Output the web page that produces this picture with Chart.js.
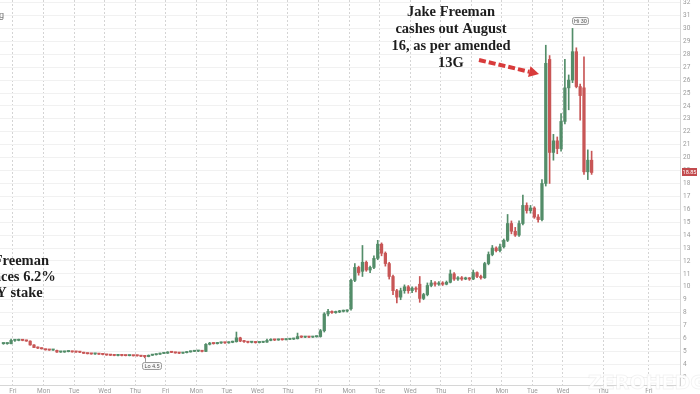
<!DOCTYPE html>
<html>
<head>
<meta charset="utf-8">
<script src="https://cdn.jsdelivr.net/npm/chart.js@4.4.1/dist/chart.umd.min.js"></script>
<style>
html, body { margin: 0; padding: 0; background: #fff; overflow: hidden; }
#wrap { width: 700px; height: 394px; }
</style>
</head>
<body>
<div id="wrap"><canvas id="myChart" width="700" height="394"></canvas></div>
<script>
// 3 bars from the prior Thursday, then 8 bars per trading day (Fri ... Wed)
const dayLabels = ['Fri','Mon','Tue','Wed','Thu','Fri','Mon','Tue','Wed','Thu','Fri',
                   'Mon','Tue','Wed','Thu','Fri','Mon','Tue','Wed','Thu','Fri'];
const yTicks = [3,4,5,6,7,8,9,10,11,12,13,14,15,16,17,18,19,20,21,22,23,24,25,26,27,28,29,30,31,32];

const opens = [
  5.6, 5.6, 5.6,
  5.85, 5.85, 5.9, 5.85, 5.8, 5.5, 5.3, 5.25,
  5.15, 5.12, 5.1, 5.08, 4.95, 4.95, 4.98, 5.0,
  4.96, 4.95, 4.93, 4.85, 4.82, 4.8, 4.8, 4.78,
  4.75, 4.72, 4.7, 4.68, 4.7, 4.68, 4.67, 4.68,
  4.67, 4.66, 4.62, 4.6, 4.7, 4.74, 4.78, 4.84,
  4.86, 4.95, 4.92, 4.88, 4.86, 4.9, 4.96, 5.0,
  5.02, 5.02, 5.0, 5.55, 5.62, 5.6, 5.65, 5.68,
  5.66, 5.7, 5.75, 6.05, 5.8, 5.75, 5.7, 5.72,
  5.68, 5.7, 5.72, 5.85, 5.9, 5.88, 5.92, 5.9,
  5.93, 5.95, 5.98, 6.15, 6.1, 6.12, 6.1, 6.13,
  6.15, 6.6, 7.9, 8.1, 8.0, 8.05, 8.1, 8.12,
  8.3, 10.5, 11.5, 11.2, 11.9, 11.3, 11.5, 12.2,
  13.3, 12.6, 11.8, 10.8, 9.7, 9.2, 9.7, 10.0,
  9.7, 9.9, 10.2, 9.1, 9.4, 10.1, 10.3, 10.2,
  10.3, 10.2, 10.35, 11.0, 10.6, 10.7, 10.6, 10.65,
  10.6, 11.1, 10.8, 10.7, 11.8, 12.5, 13.0, 12.8,
  13.1, 13.6, 14.9, 14.3, 14.0, 14.9, 16.3, 15.9,
  16.1, 15.4, 15.2, 18.0, 27.6, 20.4, 21.3, 20.7,
  22.8, 25.4, 26.0, 28.2, 25.5, 25.4, 18.9, 19.8
];
const highs = [
  5.65, 5.65, 5.95,
  5.9, 5.95, 5.92, 5.88, 5.82, 5.52, 5.35, 5.28,
  5.18, 5.15, 5.13, 5.1, 4.98, 5.02, 5.05, 5.02,
  4.98, 4.97, 4.94, 4.87, 4.84, 4.83, 4.82, 4.8,
  4.77, 4.74, 4.72, 4.72, 4.72, 4.7, 4.7, 4.7,
  4.69, 4.68, 4.65, 4.73, 4.77, 4.8, 4.87, 4.9,
  4.98, 4.98, 4.94, 4.9, 4.93, 4.99, 5.03, 5.05,
  5.05, 5.04, 5.6, 5.7, 5.66, 5.7, 5.72, 5.7,
  5.74, 5.8, 6.5, 6.1, 5.85, 5.78, 5.76, 5.75,
  5.74, 5.76, 5.95, 5.98, 5.94, 5.96, 5.95, 5.97,
  5.98, 6.02, 6.42, 6.2, 6.16, 6.15, 6.17, 6.2,
  6.7, 8.0, 8.25, 8.15, 8.12, 8.18, 8.2, 8.22,
  10.6, 11.8, 11.6, 13.2, 12.0, 11.6, 12.4, 13.6,
  13.4, 12.7, 11.9, 10.9, 9.8, 9.9, 10.15, 10.1,
  10.0, 10.0, 10.8, 9.5, 10.3, 10.5, 10.4, 10.4,
  10.4, 10.45, 11.3, 11.1, 10.8, 10.8, 10.75, 10.72,
  11.3, 11.15, 10.9, 11.9, 12.7, 13.2, 13.1, 13.3,
  13.7, 15.6, 15.1, 14.6, 15.1, 17.1, 16.5, 16.3,
  16.2, 15.6, 18.3, 28.7, 27.9, 21.8, 21.6, 23.4,
  27.6, 26.4, 30.0, 28.5, 25.7, 27.8, 20.6, 20.5
];
const lows = [
  5.55, 5.55, 5.58,
  5.78, 5.82, 5.82, 5.78, 5.48, 5.28, 5.22, 5.18,
  5.1, 5.08, 5.07, 4.93, 4.92, 4.93, 4.96, 4.94,
  4.93, 4.9, 4.84, 4.8, 4.78, 4.77, 4.76, 4.73,
  4.7, 4.68, 4.66, 4.66, 4.66, 4.65, 4.65, 4.64,
  4.63, 4.6, 4.5, 4.58, 4.68, 4.72, 4.76, 4.82,
  4.84, 4.9, 4.86, 4.83, 4.84, 4.88, 4.94, 4.98,
  4.98, 4.97, 4.98, 5.5, 5.56, 5.57, 5.62, 5.62,
  5.63, 5.67, 5.72, 5.75, 5.7, 5.66, 5.66, 5.64,
  5.65, 5.67, 5.7, 5.82, 5.84, 5.86, 5.87, 5.88,
  5.9, 5.92, 5.96, 6.06, 6.07, 6.06, 6.08, 6.1,
  6.1, 6.5, 7.75, 7.95, 7.95, 8.0, 8.05, 8.05,
  8.2, 10.4, 10.9, 10.8, 11.2, 11.1, 11.4, 12.1,
  12.4, 11.6, 10.6, 9.4, 8.75, 9.0, 9.5, 9.5,
  9.55, 9.6, 8.8, 9.0, 9.3, 10.0, 10.05, 10.1,
  10.1, 10.15, 10.3, 10.5, 10.5, 10.5, 10.55, 10.5,
  10.55, 10.7, 10.6, 10.65, 11.7, 12.4, 12.7, 12.7,
  13.0, 13.5, 14.1, 13.9, 13.9, 14.8, 15.7, 15.7,
  15.3, 15.0, 15.1, 17.8, 18.0, 19.8, 20.3, 20.5,
  22.6, 23.7, 25.8, 25.4, 22.9, 18.7, 18.3, 18.7
];
const closes = [
  5.6, 5.6, 5.85,
  5.85, 5.9, 5.85, 5.8, 5.5, 5.3, 5.25, 5.2,
  5.12, 5.1, 5.1, 4.95, 4.95, 4.98, 5.02, 4.96,
  4.95, 4.93, 4.85, 4.82, 4.8, 4.8, 4.78, 4.76,
  4.72, 4.7, 4.68, 4.7, 4.68, 4.67, 4.68, 4.66,
  4.66, 4.62, 4.6, 4.7, 4.74, 4.78, 4.84, 4.86,
  4.95, 4.92, 4.88, 4.86, 4.9, 4.96, 5.0, 5.02,
  5.02, 5.0, 5.55, 5.62, 5.6, 5.65, 5.68, 5.66,
  5.7, 5.75, 6.05, 5.8, 5.75, 5.7, 5.72, 5.68,
  5.7, 5.72, 5.85, 5.9, 5.88, 5.92, 5.9, 5.93,
  5.95, 5.98, 6.15, 6.1, 6.12, 6.1, 6.13, 6.15,
  6.6, 7.9, 8.1, 8.0, 8.05, 8.1, 8.12, 8.15,
  10.5, 11.5, 11.1, 11.9, 11.3, 11.5, 12.2, 13.3,
  12.6, 11.8, 10.8, 9.7, 9.2, 9.7, 10.0, 9.7,
  9.9, 9.8, 9.1, 9.4, 10.1, 10.3, 10.2, 10.3,
  10.2, 10.35, 11.0, 10.6, 10.7, 10.6, 10.65, 10.6,
  11.1, 10.8, 10.7, 11.8, 12.5, 13.0, 12.8, 13.1,
  13.6, 14.9, 14.3, 14.0, 14.9, 16.3, 15.9, 16.1,
  15.4, 15.2, 18.0, 27.3, 20.4, 21.3, 20.7, 22.8,
  25.4, 26.0, 28.2, 25.5, 24.8, 18.9, 19.8, 18.85
];

const noteRight = ['Jake Freeman', 'cashes out August', '16, as per amended', '13G'];
const noteLeft = ['Jake Freeman', 'announces 6.2%', 'BBBY stake'];

const barsPerDay = 8;
const leadBars = 3;
const xPos = i => (i - leadBars + 0.5) / barsPerDay;
// the two days after the data get wider spacing on the axis
const futurePos = [19.31, 20.81];
const tickPos = dayLabels.map((d, i) => i < 19 ? i : futurePos[i - 19]);

const upColor = '#538d69';
const downColor = '#c85656';
const candleColors = opens.map((o, i) => closes[i] >= o ? upColor : downColor);

const notes = {
  id: 'notes',
  afterDraw(chart) {
    const { ctx, scales: { x, y } } = chart;
    ctx.save();
    ctx.fillStyle = '#1d1d1d';
    ctx.textAlign = 'center';
    ctx.textBaseline = 'middle';
    ctx.font = 'bold 14.5px "Liberation Serif"';
    noteRight.forEach((t, i) => ctx.fillText(t, 451, 12 + 17 * i));
    noteLeft.forEach((t, i) => ctx.fillText(t, 5, 261 + 16 * i));

    // dashed red arrow
    const ax0 = 479, ay0 = 60, ax1 = 539, ay1 = 74;
    const len = Math.hypot(ax1 - ax0, ay1 - ay0);
    const ux = (ax1 - ax0) / len, uy = (ay1 - ay0) / len;
    const bx = ax1 - ux * 10, by = ay1 - uy * 10;
    ctx.strokeStyle = '#d83b3b';
    ctx.lineWidth = 4;
    ctx.setLineDash([7, 3]);
    ctx.beginPath(); ctx.moveTo(ax0, ay0); ctx.lineTo(bx, by); ctx.stroke();
    ctx.setLineDash([]);
    ctx.fillStyle = '#d83b3b';
    ctx.beginPath();
    ctx.moveTo(ax1, ay1);
    ctx.lineTo(bx - uy * 5.5, by + ux * 5.5);
    ctx.lineTo(bx + uy * 5.5, by - ux * 5.5);
    ctx.closePath(); ctx.fill();

    // hi / lo tags
    const hiI = highs.indexOf(Math.max(...highs));
    const loI = lows.indexOf(Math.min(...lows));
    const tag = (txt, left, top, w) => {
      ctx.beginPath();
      ctx.roundRect(left + 0.5, top + 0.5, w, 7, 2);
      ctx.fillStyle = '#f6f6f6'; ctx.fill();
      ctx.strokeStyle = '#9a9a9a'; ctx.lineWidth = 1; ctx.stroke();
      ctx.fillStyle = '#555';
      ctx.font = '5.5px Roboto';
      ctx.fillText(txt, left + 0.5 + w / 2, top + 4.2);
    };
    const hx = x.getPixelForValue(xPos(hiI)), hy = y.getPixelForValue(highs[hiI]);
    tag('Hi ' + highs[hiI], Math.round(hx) - 1, Math.round(hy) - 11, 16);
    const lx = x.getPixelForValue(xPos(loI)), ly = y.getPixelForValue(lows[loI]);
    ctx.strokeStyle = '#9a9a9a'; ctx.lineWidth = 1;
    ctx.beginPath(); ctx.moveTo(Math.round(lx) + 0.5, ly); ctx.lineTo(Math.round(lx) + 0.5, ly + 4); ctx.stroke();
    tag('Lo ' + lows[loI], Math.round(lx) - 3, Math.round(ly) + 4, 19);

    // last price tag on the axis
    const last = closes[closes.length - 1];
    const py = y.getPixelForValue(last);
    ctx.fillStyle = '#c24a4d';
    ctx.fillRect(682, Math.round(py) - 4, 15, 8);
    ctx.fillStyle = '#fff';
    ctx.font = '5.5px Roboto';
    ctx.fillText(last.toFixed(2), 689.5, Math.round(py) + 0.3);

    // faint watermark, bottom right
    ctx.font = 'bold 19px "DejaVu Sans"';
    ctx.textAlign = 'left';
    ctx.fillStyle = 'rgba(255,255,255,0.93)';
    ctx.strokeStyle = 'rgba(0,0,0,0.05)';
    ctx.lineWidth = 1;
    ctx.fillText('ZEROHEDGE', 588, 384);
    ctx.strokeText('ZEROHEDGE', 588, 384);

    // clipped title remnant, top left
    ctx.fillStyle = '#777';
    ctx.font = '9px Roboto';
    ctx.fillText('g', -1, 16);
    ctx.restore();
  }
};

const ctx = document.getElementById('myChart').getContext('2d');
const myChart = new Chart(ctx, {
  type: 'bar',
  data: {
    datasets: [{
      label: 'wick',
      data: lows.map((l, i) => ({ x: xPos(i), y: [l, highs[i]] })),
      backgroundColor: candleColors,
      barThickness: 1,
      grouped: false,
      order: 2
    }, {
      label: 'body',
      data: opens.map((o, i) => ({ x: xPos(i), y: [o, closes[i]] })),
      backgroundColor: candleColors,
      barThickness: 2.6,
      minBarLength: 1.2,
      grouped: false,
      order: 1
    }]
  },
  options: {
    responsive: false,
    animation: false,
    layout: { padding: 0 },
    plugins: {
      legend: { display: false },
      tooltip: { enabled: false }
    },
    scales: {
      x: {
        type: 'linear',
        min: -0.425,
        max: 21.83,
        offset: false,
        afterBuildTicks: s => { s.ticks = tickPos.map(v => ({ value: v })); },
        afterFit: s => { s.height = 9; s.paddingLeft = 0; s.paddingRight = 0; },
        grid: { offset: false, color: '#d4d4d4', drawTicks: false },
        border: { display: true, color: '#d6d6d6', dash: [2, 2] },
        ticks: {
          padding: 2,
          autoSkip: false,
          maxRotation: 0,
          color: '#9a9a9a',
          font: { size: 6.5, family: 'Roboto' },
          callback: v => dayLabels[tickPos.indexOf(v)] ?? ''
        }
      },
      y: {
        position: 'right',
        min: 2.4,
        max: 32.2,
        afterBuildTicks: s => { s.ticks = yTicks.map(v => ({ value: v })); },
        afterFit: s => { s.width = 20; s.paddingTop = 0; s.paddingBottom = 0; },
        grid: { color: '#f1f1f1', drawTicks: false },
        border: { display: true, color: '#d6d6d6' },
        ticks: {
          padding: 3,
          color: '#9a9a9a',
          font: { size: 6.5, family: 'Roboto' }
        }
      }
    }
  },
  plugins: [notes]
});
</script>
</body>
</html>
